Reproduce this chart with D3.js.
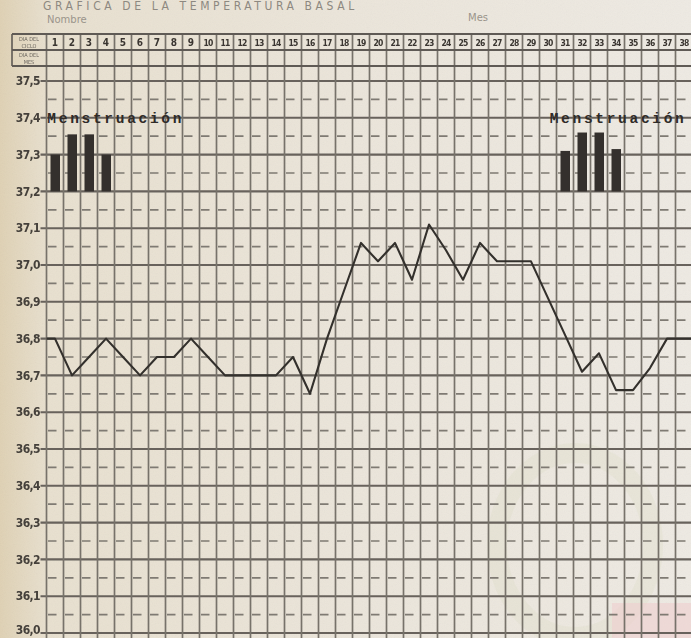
<!DOCTYPE html>
<html>
<head>
<meta charset="utf-8">
<script src="https://cdn.jsdelivr.net/npm/d3@7/dist/d3.min.js"></script>
<style>
  html, body { margin: 0; padding: 0; background: #ebe6dc; overflow: hidden; }
  svg { display: block; }
</style>
</head>
<body>
<svg width="691" height="638"></svg>
<script>
// day of cycle
const days = [1, 2, 3, 4, 5, 6, 7, 8, 9, 10, 11, 12, 13, 14, 15, 16, 17, 18, 19,
  20, 21, 22, 23, 24, 25, 26, 27, 28, 29, 30, 31, 32, 33, 34, 35, 36, 37, 38]

// basal temperature, one per day
const temps = [36.8, 36.7, 36.75, 36.8, 36.75, 36.7, 36.75, 36.75, 36.8, 36.75,
  36.7, 36.7, 36.7, 36.7, 36.75, 36.65, 36.8, 36.93, 37.06, 37.01,
  37.06, 36.96, 37.11, 37.04, 36.96, 37.06, 37.01, 37.01, 37.01, 36.91,
  36.81, 36.71, 36.76, 36.66, 36.66, 36.72, 36.8, 36.8]

const tempTicks = [37.5, 37.4, 37.3, 37.2, 37.1, 37.0, 36.9, 36.8, 36.7, 36.6, 36.5, 36.4, 36.3, 36.2, 36.1, 36.0]
const tickLabels = ["37,5", "37,4", "37,3", "37,2", "37,1", "37,0", "36,9", "36,8", "36,7", "36,6", "36,5", "36,4", "36,3", "36,2", "36,1", "36,0"]

// menstruation bars (typed marks)
const mensesDays = [1, 2, 3, 4, 31, 32, 33, 34]
const mensesTop = [37.3, 37.355, 37.355, 37.3, 37.31, 37.36, 37.36, 37.315]
const mensesBase = 37.2
const mensesLabel = "Menstruación"

var svg = d3.select("svg"),
    W = +svg.attr("width"),
    H = +svg.attr("height");

var x = d3.scaleLinear().domain([0.5, 38.5]).range([46.5, 46.5 + 17 * 38]);
var y = d3.scaleLinear().domain([36.0, 37.5]).range([633, 81]);

var defs = svg.append("defs");
var grad = defs.append("linearGradient").attr("id", "paper");
grad.append("stop").attr("offset", "0").attr("stop-color", "#dfd1b4");
grad.append("stop").attr("offset", "0.07").attr("stop-color", "#e8e0cf");
grad.append("stop").attr("offset", "0.5").attr("stop-color", "#ebe5da");
grad.append("stop").attr("offset", "1").attr("stop-color", "#eeeae3");

var noise = defs.append("filter").attr("id", "grain");
noise.append("feTurbulence").attr("type", "fractalNoise").attr("baseFrequency", 0.9).attr("numOctaves", 2).attr("seed", 4);
noise.append("feColorMatrix").attr("type", "saturate").attr("values", 0);

var blur = defs.append("filter").attr("id", "soft");
blur.append("feGaussianBlur").attr("stdDeviation", 0.4);

svg.append("rect").attr("width", W).attr("height", H).attr("fill", "url(#paper)");
svg.append("rect").attr("width", W).attr("height", H).attr("filter", "url(#grain)").attr("opacity", 0.07);

// faint stains on the scan
svg.append("ellipse").attr("cx", 575).attr("cy", 545).attr("rx", 78).attr("ry", 92)
  .attr("fill", "none").attr("stroke", "#dcd9c2").attr("stroke-width", 20).attr("opacity", 0.3);
svg.append("rect").attr("x", 612).attr("y", 603).attr("width", 79).attr("height", 35)
  .attr("fill", "#efcfcf").attr("opacity", 0.6);

// title, at the very top of the sheet
svg.append("text")
  .attr("x", 43).attr("y", 10)
  .attr("font-family", "DejaVu Sans Condensed, DejaVu Sans")
  .attr("font-size", 12).attr("letter-spacing", 3.6)
  .attr("fill", "#8d8880")
  .text("GRAFICA DE LA TEMPERATURA BASAL");

svg.append("text").attr("x", 47).attr("y", 23)
  .attr("font-family", "DejaVu Sans").attr("font-size", 10).attr("fill", "#9a948b")
  .text("Nombre");
svg.append("text").attr("x", 468).attr("y", 21)
  .attr("font-family", "DejaVu Sans").attr("font-size", 10).attr("fill", "#9a948b")
  .text("Mes");

var g = svg.append("g").attr("filter", "url(#soft)");

var headTop = 34, headMid = 50, headBot = 66;
var x0 = x(0.5), x1 = x(38.5);

// minor dashes at half steps
var minor = tempTicks.slice(1).map(function(t) { return t + 0.05; });
g.append("g").selectAll("line").data(minor).enter().append("line")
  .attr("x1", x0 + 1.5).attr("x2", x1)
  .attr("y1", function(d) { return y(d); }).attr("y2", function(d) { return y(d); })
  .attr("stroke", "#7f7a73").attr("stroke-width", 1.7)
  .attr("stroke-dasharray", "8.5,8.5");

// major lines + tick
g.append("g").selectAll("line").data(tempTicks).enter().append("line")
  .attr("x1", x0 - 6).attr("x2", x1)
  .attr("y1", function(d) { return y(d); }).attr("y2", function(d) { return y(d); })
  .attr("stroke", "#67625c").attr("stroke-width", 2.1);

// verticals
var edges = days.map(function(d) { return d - 0.5; }).concat([38.5]);
g.append("g").selectAll("line").data(edges).enter().append("line")
  .attr("x1", function(d) { return x(d); }).attr("x2", function(d) { return x(d); })
  .attr("y1", headTop).attr("y2", H)
  .attr("stroke", "#77726b").attr("stroke-width", 1.7);

// header frame
[headTop, headMid, headBot].forEach(function(yy) {
  g.append("line").attr("x1", 12).attr("x2", x1).attr("y1", yy).attr("y2", yy)
    .attr("stroke", "#5f5a54").attr("stroke-width", 1.8);
});
g.append("line").attr("x1", 12).attr("x2", 12).attr("y1", headTop).attr("y2", headBot)
  .attr("stroke", "#5f5a54").attr("stroke-width", 1.6);

var tiny = g.append("g").attr("font-family", "DejaVu Sans Condensed, DejaVu Sans")
  .attr("font-size", 5.5).attr("fill", "#6a655e").attr("text-anchor", "middle");
tiny.append("text").attr("x", 29).attr("y", 41).text("DIA DEL");
tiny.append("text").attr("x", 29).attr("y", 47.5).text("CICLO");
tiny.append("text").attr("x", 29).attr("y", 57).text("DIA DEL");
tiny.append("text").attr("x", 29).attr("y", 63.5).text("MES");

// day numbers
g.append("g")
  .attr("font-family", "DejaVu Sans Condensed, DejaVu Sans")
  .attr("font-weight", "bold").attr("fill", "#3a3631")
  .attr("text-anchor", "middle")
  .selectAll("text").data(days).enter().append("text")
  .attr("x", function(d) { return x(d); })
  .attr("y", headMid - 4)
  .attr("font-size", function(d) { return d < 10 ? 10 : 8.5; })
  .attr("letter-spacing", function(d) { return d < 10 ? 0 : -0.8; })
  .text(function(d) { return d; });

// y labels
g.append("g")
  .attr("font-family", "DejaVu Sans Condensed, DejaVu Sans")
  .attr("font-weight", "bold").attr("font-size", 12).attr("fill", "#45413b")
  .attr("text-anchor", "end")
  .selectAll("text").data(tempTicks).enter().append("text")
  .attr("x", 40).attr("y", function(d) { return y(d); })
  .attr("dy", function(d, i) { return i === tempTicks.length - 1 ? "0.05em" : "0.35em"; })
  .attr("letter-spacing", -0.6)
  .text(function(d, i) { return tickLabels[i]; });

// menstruation bars
svg.append("g").selectAll("rect").data(mensesDays).enter().append("rect")
  .attr("x", function(d) { return x(d) - 4.5; })
  .attr("width", 9.5)
  .attr("y", function(d, i) { return y(mensesTop[i]); })
  .attr("height", function(d, i) { return y(mensesBase) - y(mensesTop[i]); })
  .attr("fill", "#34302d");

svg.append("g")
  .attr("font-family", "Liberation Mono, DejaVu Sans Mono")
  .attr("font-weight", "bold").attr("font-size", 14.5).attr("letter-spacing", 2.7)
  .attr("fill", "#2f2b28")
  .selectAll("text").data([0.55, 30.1]).enter().append("text")
  .attr("x", function(d) { return x(d); })
  .attr("y", y(37.4) + 5)
  .text(mensesLabel);

// temperature curve
var pts = days.map(function(d, i) { return { day: d, t: temps[i] }; });
pts = [{ day: 0.5, t: temps[0] }].concat(pts, [{ day: 38.5, t: temps[temps.length - 1] }]);

svg.append("path")
  .datum(pts)
  .attr("fill", "none")
  .attr("stroke", "#33302c")
  .attr("stroke-width", 2.1)
  .attr("stroke-linejoin", "round")
  .attr("d", d3.line().x(function(d) { return x(d.day); }).y(function(d) { return y(d.t); }));
</script>
</body>
</html>
